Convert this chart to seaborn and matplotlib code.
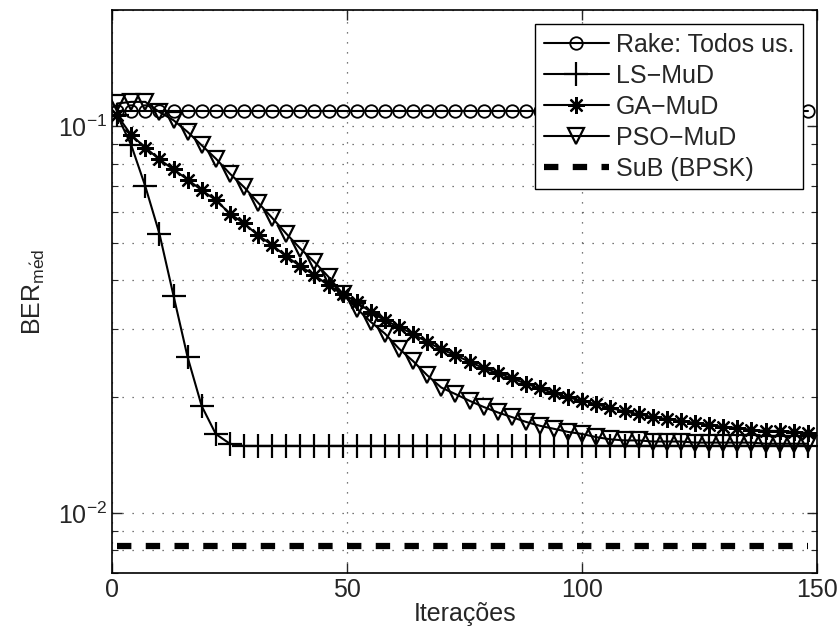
import numpy as np
import pandas as pd
import seaborn as sns
import matplotlib.pyplot as plt
from matplotlib.ticker import LogLocator, NullFormatter

# iterations where the curves were sampled (markers every 3 iterations)
iteracoes = list(range(1, 149, 3))

rake = [0.1095] * 50

ls_mud = [0.107, 0.0895, 0.070, 0.0528, 0.0365, 0.0253, 0.0189, 0.0160, 0.0151,
          0.0149, 0.0149, 0.0149, 0.0149, 0.0149, 0.0149, 0.0149, 0.0149, 0.0149,
          0.0149, 0.0149, 0.0149, 0.0149, 0.0149, 0.0149, 0.0149, 0.0149, 0.0149,
          0.0149, 0.0149, 0.0149, 0.0149, 0.0149, 0.0149, 0.0149, 0.0149, 0.0149,
          0.0149, 0.0149, 0.0149, 0.0149, 0.0149, 0.0149, 0.0149, 0.0149, 0.0149,
          0.0149, 0.0149, 0.0149, 0.0149, 0.0149]

ga_mud = [0.107, 0.095, 0.0882, 0.0822, 0.0774, 0.0729, 0.0684, 0.0645, 0.0595,
          0.0561, 0.0523, 0.0493, 0.0461, 0.0435, 0.0412, 0.0388, 0.0369, 0.0351,
          0.0331, 0.0315, 0.0303, 0.0290, 0.0277, 0.0265, 0.0256, 0.0246, 0.0237,
          0.0230, 0.0223, 0.0216, 0.0210, 0.0204, 0.0199, 0.0195, 0.0191, 0.0187,
          0.0183, 0.0180, 0.0177, 0.0175, 0.0173, 0.0171, 0.0169, 0.0167, 0.0166,
          0.0164, 0.0163, 0.0163, 0.0162, 0.0161]

pso_mud = [0.1147, 0.1158, 0.1158, 0.109, 0.1038, 0.0968, 0.0894, 0.0826, 0.0755,
           0.0697, 0.0635, 0.0580, 0.0528, 0.0483, 0.0446, 0.0408, 0.0369, 0.0338,
           0.0312, 0.0291, 0.0266, 0.0247, 0.0227, 0.0211, 0.0203, 0.0195, 0.0188,
           0.0182, 0.0177, 0.0172, 0.0168, 0.0165, 0.0162, 0.0160, 0.0157, 0.0155,
           0.0154, 0.0154, 0.0153, 0.0153, 0.0153, 0.0152, 0.0152, 0.0152, 0.0152,
           0.0152, 0.0151, 0.0151, 0.0151, 0.0151]

sub_bpsk = [0.0082] * 50

series = {
    'Rake: Todos us.': rake,
    'LS\u2212MuD': ls_mud,
    'GA\u2212MuD': ga_mud,
    'PSO\u2212MuD': pso_mud,
    'SuB (BPSK)': sub_bpsk,
}

styles = {
    'Rake: Todos us.': dict(marker='o', markersize=9, markerfacecolor='none',
                            markeredgewidth=1.3, linewidth=1.5),
    'LS\u2212MuD': dict(marker='+', markersize=17, markeredgewidth=1.6, linewidth=1.5),
    'GA\u2212MuD': dict(marker=(8, 2, 0), markersize=12, markeredgewidth=1.6, linewidth=1.5),
    'PSO\u2212MuD': dict(marker='v', markersize=12, markerfacecolor='none',
                         markeredgewidth=1.6, linewidth=1.5),
    'SuB (BPSK)': dict(linewidth=4.5, dashes=(2.3, 2.3)),
}

df = pd.DataFrame([
    {'it': x, 'ber': v, 'curva': name}
    for name, vals in series.items() for x, v in zip(iteracoes, vals)
])

sns.set_style('ticks')
plt.rcParams['font.family'] = ['Liberation Sans', 'DejaVu Sans']
plt.rcParams['mathtext.fontset'] = 'custom'
plt.rcParams['mathtext.rm'] = 'Liberation Sans'
plt.rcParams['mathtext.it'] = 'Liberation Sans'

fig = plt.figure(figsize=(8.39, 6.36), dpi=100)
ax = fig.add_axes([0.134, 0.0995, 0.84, 0.8845])

handles = []
for name in series:
    sub = df[df['curva'] == name]
    n_before = len(ax.lines)
    sns.lineplot(data=sub, x='it', y='ber', ax=ax, color='black',
                 estimator=None, legend=False)
    line = ax.lines[n_before]
    line.set_linestyle('-')
    line.set_markeredgecolor('black')
    line.set(**styles[name])
    line.set_label(name)
    handles.append(line)

ax.set_yscale('log')
ax.set_xlim(0, 150)
ax.set_ylim(0.007, 0.2)
ax.set_xticks([0, 50, 100, 150])
ax.yaxis.set_minor_locator(LogLocator(base=10, subs=np.arange(2, 10)))
ax.yaxis.set_minor_formatter(NullFormatter())

grid_kw = dict(color='0.3', linestyle=(0, (1, 7)), linewidth=0.9)
ax.xaxis.grid(True, which='major', **grid_kw)
ax.yaxis.grid(True, which='both', **grid_kw)
ax.set_axisbelow(True)

ax.tick_params(which='both', direction='in', top=True, right=True, labelsize=18)
ax.tick_params(which='major', length=7, width=1)
ax.tick_params(which='minor', length=4, width=0.8)
for s in ax.spines.values():
    s.set_linewidth(1.2)
    s.set_color('black')

ax.set_xlabel('Itera\u00e7\u00f5es', fontsize=18, labelpad=0)
ax.set_ylabel(r'BER$_{\mathrm{m\'ed}}$', fontsize=18, labelpad=8)

leg = ax.legend(handles=handles, loc='upper right', fontsize=18, frameon=True,
                fancybox=False, edgecolor='black', framealpha=1, handlelength=2.6,
                labelspacing=0.28, borderpad=0.35, handletextpad=0.3,
                borderaxespad=0.55, numpoints=1)
leg.get_frame().set_linewidth(1.0)

fig.savefig('out.png', dpi=100)
